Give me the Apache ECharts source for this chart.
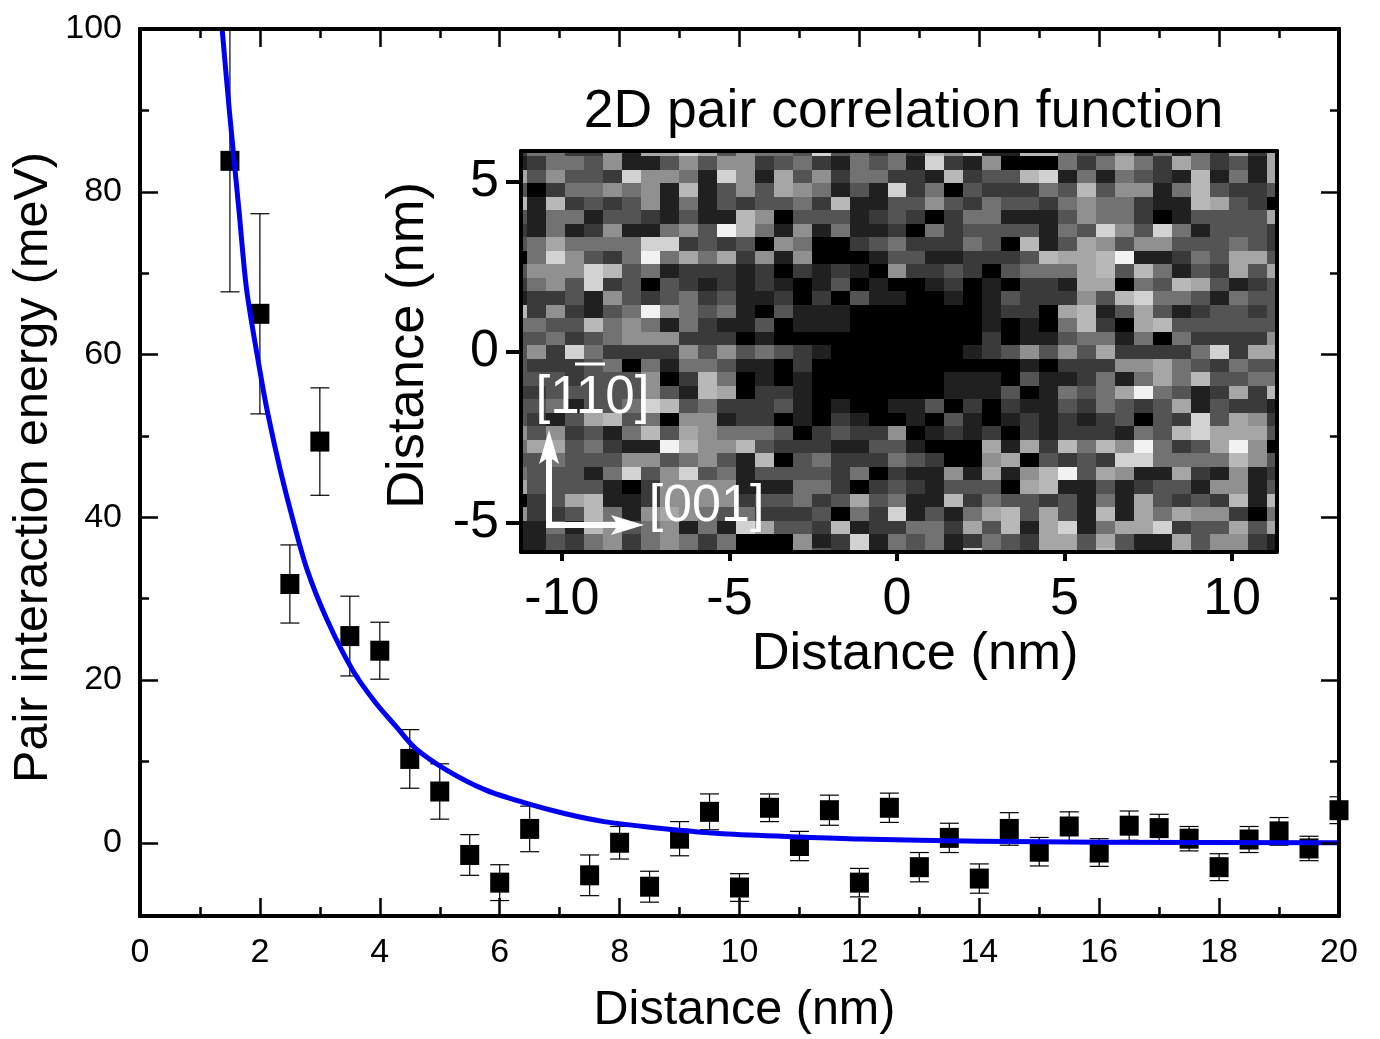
<!DOCTYPE html>
<html><head><meta charset="utf-8">
<style>html,body{margin:0;padding:0;background:#fff}#c{width:1380px;height:1039px}</style>
<script src="https://cdn.jsdelivr.net/npm/echarts@6/dist/echarts.min.js"></script>
</head><body><div id="c"></div>
<script>
const pairX=[1.5,2,2.5,3,3.5,4,4.5,5,5.5,6,6.5,7.5,8,8.5,9,9.5,10,10.5,11,11.5,12,12.5,13,13.5,14,14.5,15,15.5,16,16.5,17,17.5,18,18.5,19,19.5,20];
const pairY=[83.8,65,31.8,49.3,25.4,23.6,10.3,6.3,-1.5,-4.9,1.7,-4.0,0,-5.4,0.5,3.8,-5.5,4.3,-0.4,4,-4.9,4.3,-3,0.6,-4.4,1.7,-1.1,2,-1.2,2.1,1.8,0.5,-3,0.4,1.4,-0.7,4];
const pairErr=[16.1,12.3,4.8,6.6,4.9,3.5,3.6,3.4,2.5,2.2,2.8,2.5,2,1.9,2.1,2.2,1.7,1.7,1.8,1.85,1.75,1.8,1.8,1.8,1.8,2,1.75,1.8,1.7,1.8,1.7,1.5,1.65,1.6,1.7,1.5,1.65];
const curveX=[1.37,1.49,1.65,1.78,2,2.13,2.34,2.55,2.79,3.12,3.54,3.93,4.27,4.58,5.1,5.76,6.42,7.08,7.74,8.4,9.05,9.72,11,12,14,16,20];
const curveY=[100,90,77.8,67.9,58,52.8,45.8,39.7,33.5,27.4,21.3,17.2,14.3,11.7,9,6.5,4.9,3.6,2.6,2,1.5,1.1,0.7,0.45,0.2,0.06,0];
const mainYMajor=[0,20,40,60,80,100];
const mainYMinor=[10,30,50,70,90];
const mainXMajor=[0,2,4,6,8,10,12,14,16,18,20];
const mainXMinor=[1,3,5,7,9,11,13,15,17,19];
const insetXTicks=[-10,-5,0,5,10];
const insetYTicks=[-5,0,5];
const cellStepX=0.566, cellStepY=0.396;
const grayLevels=[0,32,58,84,114,144,166,184,210,242];
const cellRows=[
[2,4,4,2,2,5,1,6,6,8,6,3,5,4,4,3,8,3,4,2,4,2,7,5,8,1,1,7,7,4,3,2,5,1,4,1,4,2,6,2,6],
[1,2,4,4,3,5,1,1,3,5,3,5,5,2,3,4,2,1,4,3,4,1,8,2,1,5,0,0,0,4,2,4,6,4,2,6,4,2,3,1,6],
[6,3,5,3,3,2,8,5,5,4,1,8,5,1,6,3,5,2,4,4,2,2,1,7,2,3,3,7,8,1,4,1,4,3,2,1,7,1,4,1,6],
[3,0,2,4,4,5,4,5,1,7,1,3,5,3,6,5,4,1,3,1,8,2,4,0,3,2,2,2,4,3,7,3,5,5,1,4,7,3,2,2,3],
[7,1,7,2,3,2,3,5,1,4,1,3,2,3,3,4,2,7,1,1,3,3,5,3,2,4,3,3,2,4,5,4,4,2,1,1,7,6,3,2,0],
[3,1,4,4,1,3,3,2,1,3,1,1,7,5,0,3,3,3,1,2,3,2,0,2,4,4,1,1,1,3,5,4,4,2,0,1,3,3,3,3,6],
[2,1,4,1,2,5,1,1,4,5,3,9,7,4,1,5,1,4,1,1,2,0,4,2,3,3,3,3,1,4,3,8,5,3,8,4,1,3,3,3,2],
[3,4,6,4,4,4,4,8,8,2,3,2,3,0,5,4,0,0,2,3,4,2,2,2,4,3,0,7,1,3,6,5,3,5,5,3,3,3,4,3,2],
[0,4,8,5,3,2,4,9,4,6,4,6,2,5,1,5,0,0,0,1,3,3,1,1,2,2,2,3,7,6,6,7,9,1,1,2,4,3,6,6,3],
[3,5,5,5,8,7,3,4,1,2,2,2,1,2,0,2,1,2,1,0,5,2,2,3,2,0,3,4,4,4,6,7,3,7,4,1,3,2,6,3,6],
[2,4,5,3,8,2,3,0,3,2,1,2,1,2,1,0,1,3,0,1,0,0,1,2,0,1,0,2,2,1,6,6,0,4,3,7,6,3,1,2,3],
[1,2,2,3,1,5,3,2,3,4,2,3,1,1,2,0,2,0,3,1,1,0,0,1,0,1,3,2,2,2,5,3,7,8,4,4,3,1,4,3,3],
[7,2,5,2,1,3,4,9,5,4,3,4,1,0,3,1,1,1,0,0,0,0,0,0,0,1,2,2,0,6,7,1,3,6,3,1,2,3,3,2,3],
[4,4,3,3,7,4,5,4,1,4,2,1,1,3,0,1,1,1,0,0,0,0,0,0,0,1,0,1,0,4,7,2,0,6,7,3,3,3,3,3,3],
[3,3,4,2,3,4,5,5,5,2,2,2,0,1,0,0,0,0,0,0,0,0,0,0,0,2,0,1,1,3,4,4,1,4,0,4,2,2,2,2,5],
[3,5,2,8,4,2,2,2,2,5,3,5,3,4,3,2,1,0,0,0,0,0,0,0,1,2,3,5,3,5,3,6,2,2,2,2,4,8,2,6,6],
[3,2,2,2,3,4,0,4,1,4,4,3,1,1,0,2,0,0,0,0,0,0,0,0,0,0,0,1,0,2,2,2,5,5,6,4,3,2,4,3,3],
[3,3,3,2,3,3,3,5,0,2,7,4,0,1,0,1,0,0,0,0,0,0,0,1,1,1,0,3,1,1,2,4,1,4,6,4,7,3,3,4,4],
[2,2,3,3,3,3,3,5,3,1,7,6,0,2,2,1,0,0,0,0,0,0,0,1,1,1,3,0,1,4,3,4,6,9,4,3,1,2,6,2,7],
[3,3,4,1,3,3,4,8,7,3,4,2,2,2,3,1,0,1,0,0,1,1,3,0,2,0,2,1,1,3,2,4,3,2,3,6,1,3,2,2,1],
[3,2,1,3,6,7,3,4,0,5,5,1,2,2,0,1,0,2,1,0,0,1,0,3,1,0,1,2,1,2,1,2,3,0,3,2,8,3,6,5,2],
[5,3,5,2,3,1,4,7,3,6,5,4,4,4,3,0,2,3,2,2,5,0,1,2,1,2,0,2,1,2,2,2,1,4,3,7,8,6,6,6,3],
[4,6,6,3,4,2,1,1,9,7,5,5,7,3,2,2,2,1,1,3,3,1,0,0,0,6,1,6,2,7,4,7,5,9,4,2,3,6,9,5,0],
[3,3,4,3,3,3,5,5,3,4,5,3,1,7,0,3,4,2,2,2,4,3,2,0,0,5,6,0,3,2,3,2,8,8,4,4,4,4,7,5,3],
[4,3,3,3,1,4,8,3,5,8,3,4,1,3,3,3,3,2,4,0,2,1,1,5,1,6,1,5,7,9,3,6,5,1,1,6,2,1,5,1,2],
[6,3,3,3,3,1,0,2,5,5,5,5,1,1,1,4,4,2,0,2,3,2,1,3,3,3,0,6,7,1,1,3,1,2,3,3,1,5,5,1,3],
[0,2,3,6,7,1,1,2,5,5,5,5,2,3,3,4,2,3,6,3,4,1,1,7,2,4,3,3,2,3,1,4,1,6,3,2,3,2,7,1,7],
[5,2,2,3,7,4,1,5,6,5,4,3,4,2,2,2,3,0,4,2,8,1,3,1,4,6,7,3,6,3,1,7,1,6,4,6,5,5,2,0,4],
[1,1,4,1,7,5,3,4,5,1,4,1,8,6,3,3,2,7,1,2,2,4,4,2,6,3,7,1,6,8,1,4,6,6,8,2,3,3,6,3,6],
[1,1,3,2,4,5,2,4,5,4,2,4,0,0,0,5,1,2,8,1,4,3,4,1,2,4,3,2,6,6,3,6,3,1,1,6,3,5,5,2,1],
[1,1,3,2,4,5,2,4,5,4,2,4,0,0,0,5,3,2,8,1,4,3,4,1,8,4,3,2,6,6,3,7,3,1,1,6,3,5,5,2,1]
];

const FONT='"Liberation Sans", Arial, sans-serif';
const chart=echarts.init(document.getElementById('c'),null,{renderer:'canvas'});
const hide={show:false};
function mainAxis(extra,range,ticks,len,width){
  return Object.assign({type:'value',gridIndex:0,min:range[0],max:range[1],z:5,splitLine:hide,
    axisLine:{show:true,onZero:false,lineStyle:{color:'#000',width:4}},
    axisTick:{show:true,inside:true,length:len,customValues:ticks,lineStyle:{color:'#000',width:width}},
    axisLabel:{show:false}},extra);
}
const mainLabel=(vals,margin)=>({show:true,customValues:vals,margin:margin,color:'#000',fontFamily:FONT,fontSize:34});
const xR=[0,20], yR=[-9,100];
const xAxes=[
 mainAxis({position:'bottom',name:'Distance (nm)',nameLocation:'center',nameGap:70,
   nameTextStyle:{color:'#000',fontFamily:FONT,fontSize:48.5,padding:[0,0,0,10]},axisLabel:mainLabel(mainXMajor,20)},xR,mainXMajor,18,2.5),
 mainAxis({position:'bottom'},xR,mainXMinor,9,2.5),
 mainAxis({position:'top'},xR,mainXMajor,18,2.5),
 mainAxis({position:'top'},xR,mainXMinor,9,2.5)
];
const yAxes=[
 mainAxis({position:'left',name:'Pair interaction energy (meV)',nameLocation:'center',nameGap:82,nameMoveOverlap:false,
   nameTextStyle:{color:'#000',fontFamily:FONT,fontSize:48.5,padding:[0,0,0,10]},axisLabel:mainLabel(mainYMajor,18)},yR,mainYMajor,18,2.5),
 mainAxis({position:'left'},yR,mainYMinor,9,2.5),
 mainAxis({position:'right'},yR,mainYMajor,18,2.5),
 mainAxis({position:'right'},yR,mainYMinor,9,2.5)
];
function insetAxis(extra){
  return Object.assign({type:'value',gridIndex:1,z:5,splitLine:hide,
    axisLine:{show:true,onZero:false,lineStyle:{color:'#000',width:4}},
    axisTick:hide,axisLabel:{show:false}},extra);
}
const insetX=[-11.22,11.34], insetY=[-5.87,5.89];
const insetTick=(vals,len)=>({show:true,inside:false,length:len,customValues:vals,lineStyle:{color:'#000',width:4}});
const insetLabel=(vals,margin,pad)=>({show:true,customValues:vals,margin:margin,padding:pad,color:'#000',fontFamily:FONT,fontSize:52});
xAxes.push(insetAxis({position:'bottom',min:insetX[0],max:insetX[1],axisTick:insetTick(insetXTicks,9),axisLabel:insetLabel(insetXTicks,22,0),
  name:'Distance (nm)',nameLocation:'center',nameGap:76,nameTextStyle:{color:'#000',fontFamily:FONT,fontSize:52.5,padding:[0,0,0,32]}}));
xAxes.push(insetAxis({position:'top',min:insetX[0],max:insetX[1]}));
yAxes.push(insetAxis({position:'left',min:insetY[0],max:insetY[1],axisTick:insetTick(insetYTicks,15),axisLabel:insetLabel(insetYTicks,22,[5,0,0,0]),
  name:'Distance (nm)',nameLocation:'center',nameGap:86,nameTextStyle:{color:'#000',fontFamily:FONT,fontSize:52.5,padding:[0,0,0,12]}}));
yAxes.push(insetAxis({position:'right',min:insetY[0],max:insetY[1]}));

const cellData=[];
cellRows.forEach((row,r)=>row.forEach((v,c)=>cellData.push([(c-20)*cellStepX,(15-r)*cellStepY,v])));

function renderCell(params,api){
  const x=api.value(0),y=api.value(1),lv=grayLevels[api.value(2)];
  const a=api.coord([x-cellStepX/2,y+cellStepY/2]), b=api.coord([x+cellStepX/2,y-cellStepY/2]);
  const rect=echarts.graphic.clipRectByRect(
    {x:Math.round(a[0]),y:Math.round(a[1]),width:Math.round(b[0])-Math.round(a[0]),height:Math.round(b[1])-Math.round(a[1])},
    {x:params.coordSys.x,y:params.coordSys.y,width:params.coordSys.width,height:params.coordSys.height});
  return rect&&{type:'rect',shape:rect,style:{fill:`rgb(${lv},${lv},${lv})`}};
}
function renderErr(params,api){
  const x=api.value(0),hi=api.coord([x,api.value(1)+api.value(2)]),lo=api.coord([x,api.value(1)-api.value(2)]);
  const cap=9.5, st={stroke:'#000',lineWidth:1.2,fill:null};
  return {type:'group',children:[
    {type:'line',shape:{x1:hi[0],y1:hi[1],x2:lo[0],y2:lo[1]},style:st},
    {type:'line',shape:{x1:hi[0]-cap,y1:hi[1],x2:hi[0]+cap,y2:hi[1]},style:st},
    {type:'line',shape:{x1:lo[0]-cap,y1:lo[1],x2:lo[0]+cap,y2:lo[1]},style:st}]};
}
const white='#fff';
chart.setOption({
  animation:false,
  backgroundColor:'#fff',
  title:{text:'2D pair correlation function',left:898.5,top:107,textAlign:'center',textVerticalAlign:'middle',
    textStyle:{color:'#000',fontFamily:FONT,fontSize:53.5,fontWeight:'normal'}},
  grid:[{left:140,top:29,width:1199,height:887,outerBoundsMode:'none'},{left:521,top:151,width:756,height:401,outerBoundsMode:'none'}],
  xAxis:xAxes, yAxis:yAxes,
  series:[
    {type:'custom',xAxisIndex:0,yAxisIndex:0,clip:true,renderItem:renderErr,
      encode:{x:0,y:1},data:pairX.map((x,i)=>[x,pairY[i],pairErr[i]]),z:2,silent:true},
    {type:'scatter',xAxisIndex:0,yAxisIndex:0,clip:true,symbol:'rect',symbolSize:[19,20],
      itemStyle:{color:'#000',opacity:1},data:pairX.map((x,i)=>[x,pairY[i]]),z:3,silent:true},
    {type:'line',xAxisIndex:0,yAxisIndex:0,clip:true,showSymbol:false,smooth:0.3,
      lineStyle:{color:'#0000f0',width:5,join:'round'},data:curveX.map((x,i)=>[x,curveY[i]]),z:4,silent:true},
    {type:'custom',xAxisIndex:4,yAxisIndex:4,clip:true,renderItem:renderCell,
      encode:{x:0,y:1},data:cellData,z:2,silent:true}
  ],
  graphic:[
    {type:'text',z:20,style:{text:'[110]',x:592.5,y:398,align:'center',verticalAlign:'middle',fill:white,font:'53px '+FONT}},
    {type:'line',z:20,shape:{x1:575,y1:364,x2:605,y2:364},style:{stroke:white,lineWidth:3}},
    {type:'text',z:20,style:{text:'[001]',x:706.5,y:507,align:'center',verticalAlign:'middle',fill:white,font:'52px '+FONT}},
    {type:'polyline',z:20,shape:{points:[[549,528],[549,455]]},style:{stroke:white,lineWidth:6,fill:null}},
    {type:'polyline',z:20,shape:{points:[[546,525],[622,525]]},style:{stroke:white,lineWidth:6,fill:null}},
    {type:'polygon',z:20,shape:{points:[[549,430],[559,464],[549,457],[539,464]]},style:{fill:white}},
    {type:'polygon',z:20,shape:{points:[[644,525],[611,515],[618,525],[611,535]]},style:{fill:white}}
  ]
});
</script></body></html>
